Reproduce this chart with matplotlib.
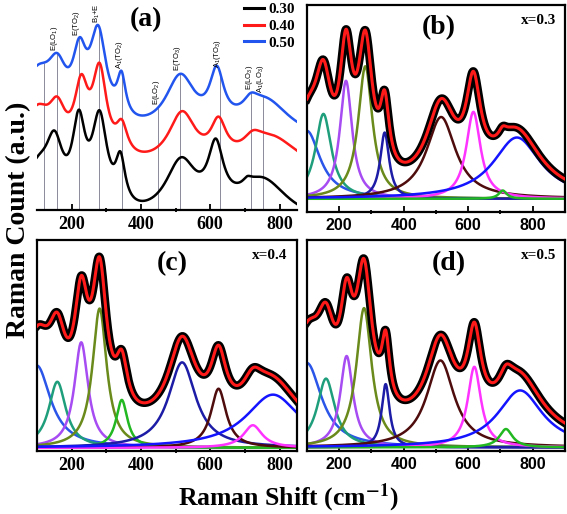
import numpy as np
import matplotlib.pyplot as plt

plt.rcParams['mathtext.fontset'] = 'custom'
plt.rcParams['mathtext.rm'] = 'Liberation Sans'
plt.rcParams['mathtext.it'] = 'Liberation Sans:italic'
plt.rcParams['mathtext.bf'] = 'Liberation Sans:bold'

shift = np.linspace(100, 900, 801)

# fitted Lorentzian peaks (b)-(d): centre (cm-1), height and half width
# heights are in fractions of the panel height
pos_30 = [100, 151, 221, 281, 341, 516, 616, 707, 751]
amp_30 = [0.328, 0.41, 0.57, 0.64, 0.32, 0.395, 0.42, 0.04, 0.296]
hw_30 = [50, 30, 23, 27, 17, 55, 27, 15, 90]
col_30 = ['#2a55e8', '#1f9e7c', '#a64cf2', '#6a8a1c', '#1c1ca6', '#4e0c0c', '#ff33ff', '#22b822', '#1414ff']
base_30 = 0.064
bg_30 = (0.0, 0.0)

pos_40 = [100, 159, 228, 281, 345, 519, 624, 723, 781]
amp_40 = [0.39, 0.313, 0.5, 0.66, 0.227, 0.405, 0.28, 0.107, 0.252]
hw_40 = [48, 30, 24, 25, 20, 48, 27, 33, 95]
col_40 = ['#2a55e8', '#1f9e7c', '#a64cf2', '#6a8a1c', '#22b822', '#1c1ca6', '#4e0c0c', '#ff33ff', '#1414ff']
base_40 = 0.015
bg_40 = (0.08, 0.03)

pos_50 = [100, 159, 223, 277, 344, 514, 619, 717, 761]
amp_50 = [0.4, 0.326, 0.433, 0.66, 0.30, 0.412, 0.382, 0.087, 0.27]
hw_50 = [55, 33, 24, 29, 15, 52, 25, 25, 85]
col_50 = ['#2a55e8', '#1f9e7c', '#a64cf2', '#6a8a1c', '#1c1ca6', '#4e0c0c', '#ff33ff', '#22b822', '#1414ff']
base_50 = 0.017
bg_50 = (0.07, 0.025)

# panel (a): scale and offset of each spectrum in the stacked plot
comps = ['0.30', '0.40', '0.50']
stack_scale = [0.686, 0.621, 0.652]
stack_off = [-0.121, 0.14, 0.299]
stack_col = ['black', '#ff1a1a', '#2255ee']

modes = [121, 158, 221, 278, 345, 450, 513, 627, 719, 751]
mode_names = ['', 'E(LO$_1$)', 'E(TO$_2$)', 'B$_1$+E', 'A$_1$(TO$_2$)', 'E(LO$_2$)',
              'E(TO$_3$)', 'A$_1$(TO$_3$)', 'E(LO$_3$)', 'A$_1$(LO$_3$)']


def lorentz(x, x0, a, g):
    return a / (1 + ((x - x0) / g) ** 2)


def components(pos, amp, hw, base):
    return [base + lorentz(shift, p, a, g) for p, a, g in zip(pos, amp, hw)]


def total(pos, amp, hw, base, bg):
    y = base + bg[0] + (bg[1] - bg[0]) * (shift - 100) / 800
    for p, a, g in zip(pos, amp, hw):
        y = y + lorentz(shift, p, a, g)
    return y


fig = plt.figure(figsize=(5.67, 5.14), dpi=100)
ax_a = fig.add_axes([0.065, 0.5914, 0.4586, 0.4027])
ax_b = fig.add_axes([0.5414, 0.5875, 0.455, 0.4027])
ax_c = fig.add_axes([0.065, 0.1226, 0.4586, 0.4105])
ax_d = fig.add_axes([0.5414, 0.1226, 0.455, 0.4105])

# ---- panel (a)
spectra = [total(pos_30, amp_30, hw_30, base_30, bg_30),
           total(pos_40, amp_40, hw_40, base_40, bg_40),
           total(pos_50, amp_50, hw_50, base_50, bg_50)]
for sp, s, o, c, lab in zip(spectra, stack_scale, stack_off, stack_col, comps):
    ax_a.plot(shift, sp * s + o, color=c, lw=1.8, label=lab, zorder=3)

blue_a = spectra[2] * stack_scale[2] + stack_off[2]
tops = np.interp(modes, shift, blue_a)
ax_a.vlines(modes, 0, tops, color='#8a8a9a', lw=0.7, zorder=1)
for m, t, name in zip(modes, tops, mode_names):
    if name:
        ax_a.text(m - 6, t + 0.012, name, rotation=90, ha='center', va='bottom',
                  fontsize=5.5, family='Liberation Sans')

ax_a.set_xlim(100, 850)
ax_a.set_ylim(0, 1)
for s in ['top', 'left', 'right']:
    ax_a.spines[s].set_visible(False)
leg = ax_a.legend(loc='upper right', bbox_to_anchor=(1.0, 1.01), frameon=False,
                  handlelength=1.3, handletextpad=0.3, labelspacing=0.2,
                  borderaxespad=0.1, borderpad=0,
                  prop={'family': 'Liberation Serif', 'weight': 'bold', 'size': 11})
for line in leg.get_lines():
    line.set_linewidth(2.2)
ax_a.text(0.42, 0.92, '(a)', transform=ax_a.transAxes, ha='center', va='center',
          fontsize=20, fontweight='bold', family='Liberation Serif')

# ---- fitted panels
panels = [(ax_b, pos_30, amp_30, hw_30, col_30, base_30, bg_30, '(b)', 'x=0.3', 900, 0.51),
          (ax_c, pos_40, amp_40, hw_40, col_40, base_40, bg_40, '(c)', 'x=0.4', 850, 0.52),
          (ax_d, pos_50, amp_50, hw_50, col_50, base_50, bg_50, '(d)', 'x=0.5', 900, 0.55)]
for ax, pos, amp, hw, cols, base, bg, lab, comp, xmax, lx in panels:
    for yc, c in zip(components(pos, amp, hw, base), cols):
        ax.plot(shift, yc, color=c, lw=1.8, zorder=2)
    yt = total(pos, amp, hw, base, bg)
    ax.plot(shift, yt, color='black', lw=6, zorder=3)
    ax.plot(shift, yt, color='#ff1a1a', lw=2.2, zorder=4)
    ax.set_xlim(100, xmax)
    ax.set_ylim(0, 1)
    ax.text(lx, 0.89, lab, transform=ax.transAxes, ha='center', va='center',
            fontsize=20, fontweight='bold', family='Liberation Serif')
    ax.text(0.965, 0.925, comp, transform=ax.transAxes, ha='right', va='center',
            fontsize=11, fontweight='bold', family='Liberation Serif')
    for s in ax.spines.values():
        s.set_linewidth(1.6)

for ax in [ax_a, ax_b, ax_c, ax_d]:
    ax.set_xticks([200, 400, 600, 800])
    ax.set_xticks([300, 500, 700], minor=True)
    ax.set_yticks([])
    ax.tick_params(axis='x', which='major', direction='in', length=4, width=1.3, pad=4)
    ax.tick_params(axis='x', which='minor', direction='inout', length=3, width=1.3)

ax_a.spines['bottom'].set_linewidth(1.6)
for ax in [ax_a, ax_c]:
    for t in ax.get_xticklabels():
        t.set_fontfamily('Liberation Serif')
        t.set_fontweight('bold')
        t.set_fontsize(13)
for ax in [ax_b, ax_d]:
    for t in ax.get_xticklabels():
        t.set_fontfamily('Liberation Sans')
        t.set_fontweight('bold')
        t.set_fontsize(11.5)

fig.text(0.032, 0.572, 'Raman Count (a.u.)', rotation=90, ha='center', va='center',
         fontsize=20, fontweight='bold', family='Liberation Serif')
fig.text(0.508, 0.031, r'Raman Shift (cm$^{\mathbf{-1}}$)', ha='center', va='center',
         fontsize=18.5, fontweight='bold', family='Liberation Serif', math_fontfamily='stix')

fig.savefig('out.png', dpi=100)
